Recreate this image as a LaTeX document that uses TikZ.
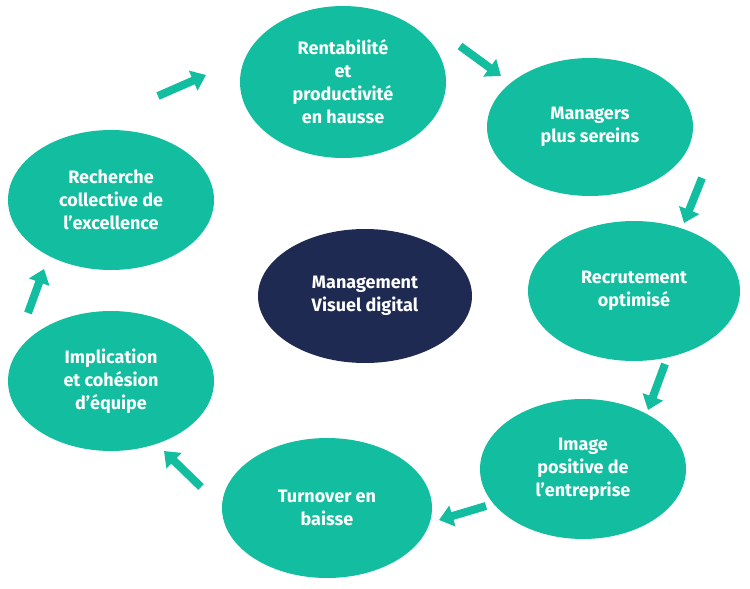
\documentclass[tikz,border=0pt]{standalone}
\usepackage{fontspec}
\setmainfont{Fira Sans}
\usetikzlibrary{shapes.geometric,arrows.meta}
\definecolor{teal}{HTML}{12BE9F}
\definecolor{navy}{HTML}{1E2A52}

\begin{document}
\begin{tikzpicture}[x=1pt,y=-1pt,
  bubble/.style={ellipse, fill=teal, text=white, inner sep=0pt, align=center,
    minimum width=206pt, minimum height=140pt,
    font=\fontsize{18}{23}\selectfont\bfseries},
  hub/.style={bubble, fill=navy, minimum width=214pt, minimum height=134pt},
  flow/.style={teal, line width=8pt, -{Triangle[width=21pt,length=14pt]}}]
\useasboundingbox (0,0) rectangle (750,589);
\node [bubble, minimum height=152pt] (rent) at (343,82) {Rentabilité\\et\\productivité\\en hausse};
\node [bubble, minimum height=138pt] (mgr) at (590,127) {Managers\\plus sereins};
\node [bubble, minimum width=212pt] (recr) at (634,291) {Recrutement\\optimisé};
\node [bubble] (img) at (583,469) {Image\\positive de\\l’entreprise};
\node [bubble, minimum width=210pt] (turn) at (327,508) {Turnover en\\baisse};
\node [bubble] (impl) at (111,381) {Implication\\et cohésion\\d’équipe};
\node [bubble] (rech) at (111,200) {Recherche\\collective de\\l’excellence};
\node [hub] (mvd) at (365,296) {Management\\Visuel digital};
% arrows between the bubbles
\coordinate (a1) at (158,96);  \coordinate (b1) at (206,75);
\coordinate (a2) at (460,46);  \coordinate (b2) at (501,76);
\coordinate (a3) at (702,178); \coordinate (b3) at (684,223);
\coordinate (a4) at (665,364); \coordinate (b4) at (648,410);
\coordinate (a5) at (486,506); \coordinate (b5) at (439,520);
\coordinate (a6) at (201,487); \coordinate (b6) at (164,451);
\coordinate (a7) at (28,313);  \coordinate (b7) at (44,269);
\draw [flow] (a1) -- (b1);
\draw [flow] (a2) -- (b2);
\draw [flow] (a3) -- (b3);
\draw [flow] (a4) -- (b4);
\draw [flow] (a5) -- (b5);
\draw [flow] (a6) -- (b6);
\draw [flow] (a7) -- (b7);
\end{tikzpicture}
\end{document}
